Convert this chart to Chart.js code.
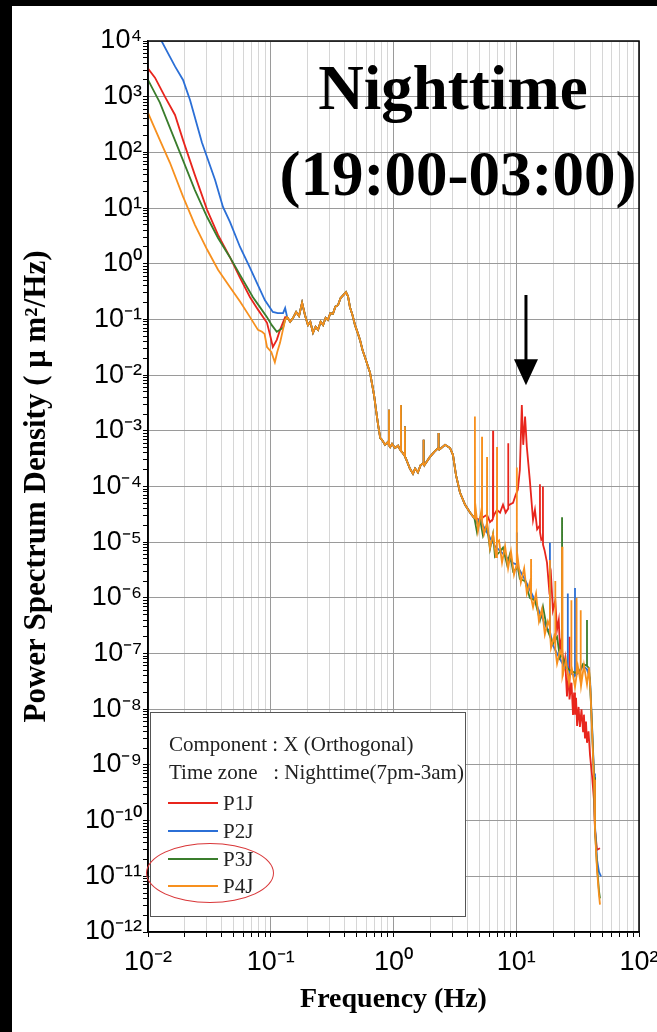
<!DOCTYPE html>
<html>
<head>
<meta charset="utf-8">
<title>Power Spectrum Density - Nighttime</title>
<script src="https://cdn.jsdelivr.net/npm/chart.js@4.4.1/dist/chart.umd.min.js"></script>
<style>
  html, body { margin: 0; padding: 0; background: #000; }
  #wrap { position: absolute; left: 12px; top: 6px; width: 645px; height: 1026px; background: #fff; overflow: hidden; }
  #chart { position: absolute; left: 0; top: 0; }
  .title { position: absolute; font-family: 'Liberation Serif', 'Times New Roman', serif; font-weight: bold;
           font-size: 63px; line-height: 63px; color: #000; white-space: nowrap; transform: translateX(-50%); }
  #legend { position: absolute; left: 138px; top: 706px; width: 316px; height: 205px; box-sizing: border-box;
            border: 1px solid #555; background: #fff; font-family: 'Liberation Serif', 'Times New Roman', serif;
            font-size: 21px; color: #222; }
  #legend .row { position: absolute; left: 18px; height: 24px; line-height: 24px; white-space: pre; }
  #legend .sw { position: absolute; left: 17px; width: 50px; height: 2px; }
  #legend .lab { position: absolute; left: 72px; height: 24px; line-height: 24px; }
  #ring { position: absolute; left: 134px; top: 837px; width: 128px; height: 60px; box-sizing: border-box;
          border: 1.5px solid #d9383a; border-radius: 50%; }
</style>
</head>
<body>
<div id="wrap">
  <canvas id="chart" width="645" height="1026"></canvas>
  <div class="title" style="left:441px; top:51px;">Nighttime</div>
  <div class="title" style="left:446px; top:137px;">(19:00-03:00)</div>
  <div id="legend">
    <div class="row" style="top:19px;">Component : X (Orthogonal)</div>
    <div class="row" style="top:47px;">Time zone   : Nighttime(7pm-3am)</div>
    <div class="sw" style="top:89px; background:#e8251c;"></div><div class="lab" style="top:78px;">P1J</div>
    <div class="sw" style="top:117px; background:#2b6fd6;"></div><div class="lab" style="top:106px;">P2J</div>
    <div class="sw" style="top:145px; background:#3a7d2c;"></div><div class="lab" style="top:134px;">P3J</div>
    <div class="sw" style="top:172px; background:#f7901e;"></div><div class="lab" style="top:161px;">P4J</div>
  </div>
  <div id="ring"></div>
</div>
<script>
// Axis ticks
const xTickValues = [0.01, 0.1, 1, 10, 100];
const xTickLabels = ['10⁻²', '10⁻¹', '10⁰', '10¹', '10²'];
const yTickValues = [1e-12, 1e-11, 1e-10, 1e-9, 1e-8, 1e-7, 1e-6, 1e-5, 1e-4, 1e-3, 1e-2, 1e-1, 1e0, 1e1, 1e2, 1e3, 1e4];
const yTickLabels = ['10⁻¹²', '10⁻¹¹', '10⁻¹⁰', '10⁻⁹', '10⁻⁸', '10⁻⁷', '10⁻⁶', '10⁻⁵', '10⁻⁴', '10⁻³', '10⁻²', '10⁻¹', '10⁰', '10¹', '10²', '10³', '10⁴'];

const seriesNames = ['P1J', 'P2J', 'P3J', 'P4J'];
const seriesColors = ['#e8251c', '#2b6fd6', '#3a7d2c', '#f7901e'];

// [frequency Hz, PSD um^2/Hz] - low frequency part, one per station
const p1jLow = [[0.0100, 3.2e3], [0.0114, 2.2e3], [0.0138, 980], [0.0166, 470], [0.0193, 166], [0.0241, 39],
  [0.0303, 9.3], [0.0372, 3.3], [0.0466, 1.3], [0.0562, 0.56], [0.0678, 0.25], [0.0787, 0.15], [0.0932, 0.087],
  [0.0986, 0.053], [0.104, 0.032], [0.112, 0.043], [0.119, 0.065], [0.131, 0.11]];
const p2jLow = [[0.0100, 4.1e4], [0.0130, 9.6e3], [0.0166, 3.5e3], [0.0193, 2.0e3], [0.0220, 870], [0.0275, 150],
  [0.0352, 32], [0.0408, 10.5], [0.0466, 5.6], [0.0562, 2.0], [0.0678, 0.84], [0.0773, 0.45], [0.0897, 0.22],
  [0.104, 0.136], [0.114, 0.13], [0.126, 0.13], [0.131, 0.16]];
const p3jLow = [[0.0100, 2.0e3], [0.0125, 780], [0.0151, 275], [0.0193, 72], [0.0241, 21], [0.0303, 6.9],
  [0.0372, 2.9], [0.0466, 1.3], [0.0562, 0.63], [0.0716, 0.25], [0.0811, 0.17], [0.0932, 0.11], [0.102, 0.079],
  [0.112, 0.060], [0.126, 0.071], [0.131, 0.10]];
const p4jLow = [[0.0100, 510], [0.0125, 166], [0.0151, 65], [0.0193, 16], [0.0241, 5.0], [0.0303, 1.8],
  [0.0372, 0.78], [0.0466, 0.38], [0.0562, 0.21], [0.0678, 0.11], [0.0787, 0.065], [0.0849, 0.060], [0.0890, 0.055],
  [0.0932, 0.032], [0.101, 0.026], [0.108, 0.017], [0.113, 0.026], [0.119, 0.038], [0.131, 0.098]];

// shared band 0.14 - 4.5 Hz (all stations overlap here)
const commonBand = [[0.136, 0.11], [0.144, 0.091], [0.152, 0.107], [0.161, 0.136], [0.170, 0.115], [0.180, 0.20],
  [0.190, 0.12], [0.201, 0.079], [0.210, 0.091], [0.221, 0.058], [0.232, 0.074], [0.243, 0.065], [0.255, 0.091],
  [0.267, 0.079], [0.280, 0.107], [0.292, 0.098], [0.306, 0.13], [0.321, 0.126], [0.336, 0.17], [0.353, 0.18],
  [0.370, 0.24], [0.388, 0.27], [0.410, 0.31], [0.426, 0.26], [0.442, 0.166], [0.463, 0.12], [0.486, 0.079],
  [0.510, 0.058], [0.533, 0.043], [0.560, 0.028], [0.586, 0.021], [0.615, 0.015], [0.644, 0.011], [0.694, 0.0044],
  [0.720, 0.0024], [0.748, 0.0013], [0.780, 7.4e-4], [0.806, 6.9e-4], [0.853, 5.6e-4], [0.900, 6.3e-4],
  [0.917, 5.5e-4], [0.919, 2.4e-3], [0.921, 5.5e-4], [0.940, 5.1e-4], [0.973, 5.8e-4], [1.03, 4.9e-4],
  [1.09, 5.4e-4], [1.13, 4.6e-4], [1.148, 4.4e-4], [1.150, 2.9e-3], [1.152, 4.3e-4], [1.17, 4.2e-4],
  [1.22, 3.7e-4], [1.238, 3.5e-4], [1.240, 1.2e-3], [1.242, 3.4e-4], [1.26, 3.2e-4], [1.36, 2.1e-4],
  [1.44, 1.7e-4], [1.50, 2.1e-4], [1.58, 1.8e-4], [1.66, 2.4e-4], [1.74, 2.6e-4], [1.758, 2.5e-4],
  [1.760, 6.9e-4], [1.762, 2.5e-4], [1.78, 2.4e-4], [1.98, 3.4e-4], [2.15, 4.2e-4], [2.31, 4.9e-4],
  [2.328, 4.8e-4], [2.330, 9.1e-4], [2.332, 4.8e-4], [2.36, 4.6e-4], [2.63, 5.6e-4], [2.89, 4.9e-4],
  [3.05, 3.7e-4], [3.23, 1.6e-4], [3.48, 7.8e-5], [3.83, 4.7e-5], [4.20, 3.4e-5], [4.50, 2.8e-5]];

// high frequency part, one per station
const p1jHigh = [[4.55, 2.8e-5], [5.07, 2.5e-5], [5.36, 2.8e-5], [5.78, 3.1e-5], [6.11, 2.3e-5], [6.45, 2.6e-5],
  [6.47, 1.0e-3], [6.49, 2.8e-5], [6.6, 3.1e-5], [6.97, 3.8e-5], [7.38, 3.4e-5], [7.80, 4.7e-5], [8.2, 3.4e-5],
  [8.58, 4.0e-5], [8.6, 6.0e-4], [8.62, 4.5e-5], [8.8, 4.7e-5], [9.42, 5.1e-5], [9.9, 7.1e-5], [10.3, 8.7e-5],
  [10.7, 2.0e-4], [11.1, 2.9e-3], [11.4, 5.6e-4], [11.8, 1.8e-3], [12.2, 5.1e-4], [12.9, 1.3e-4], [13.7, 2.5e-5],
  [14.2, 3.8e-5], [14.8, 1.7e-5], [15.58, 2.0e-5], [15.6, 1.1e-4], [15.62, 1.5e-5], [16.0, 1.1e-5],
  [16.48, 1.2e-5], [16.5, 1.0e-4], [16.52, 9.0e-6], [17.0, 7.2e-6], [17.8, 4.3e-6], [18.5, 1.5e-6],
  [19.2, 2.5e-6], [19.9, 6.0e-7], [20.8, 9.0e-7], [21.5, 2.7e-7], [22.2, 4.0e-7], [22.7, 1.2e-7], [23.4, 1.8e-7],
  [24.2, 5.1e-8], [25.0, 8.0e-8], [25.9, 1.7e-8], [26.6, 4.0e-8], [26.98, 3.0e-8], [27.0, 2.0e-7], [27.02, 2.0e-8],
  [27.4, 1.5e-8], [28.2, 3.0e-8], [29.0, 7.9e-9], [29.6, 2.0e-8], [30.1, 8.0e-9], [30.7, 1.6e-8], [31.3, 5.0e-9],
  [32.2, 1.1e-8], [33.0, 4.8e-9], [34.0, 1.0e-8], [35.0, 4.0e-9], [35.6, 8.0e-9], [36.3, 3.0e-9], [37.0, 6.0e-9],
  [37.7, 2.5e-9], [38.8, 4.0e-9], [39.9, 1.5e-9], [41.4, 6.6e-10], [43.0, 2.3e-10], [43.8, 6.8e-11],
  [45.5, 3.0e-11], [48.1, 3.2e-11]];
const p2jHigh = [[4.55, 2.8e-5], [4.79, 2.2e-5], [5.07, 2.7e-5], [5.36, 2.0e-5], [6.11, 1.2e-5], [6.71, 8.5e-6],
  [7.38, 7.0e-6], [8.41, 5.3e-6], [9.42, 4.2e-6], [10.08, 4.0e-6], [10.1, 1.5e-5], [10.12, 3.8e-6], [10.7, 3.1e-6],
  [11.8, 2.1e-6], [12.9, 1.4e-6], [14.2, 9.0e-7], [15.6, 5.3e-7], [17.8, 2.8e-7], [18.78, 2.6e-7], [18.8, 9.8e-6],
  [18.82, 2.5e-7], [19.9, 1.4e-7], [22.7, 8.0e-8], [25.0, 5.5e-8], [26.28, 6.0e-8], [26.3, 1.2e-6],
  [26.32, 6.0e-8], [27.4, 4.5e-8], [30.08, 4.0e-8], [30.1, 1.5e-6], [30.12, 4.0e-8], [33.0, 4.8e-8],
  [35.0, 6.0e-8], [37.7, 5.2e-8], [39.9, 3.5e-8], [41.4, 5.5e-9], [43.0, 7.0e-10], [43.8, 8.0e-11],
  [45.5, 2.0e-11], [47.2, 1.2e-11], [48.1, 1.1e-11], [49.0, 1.0e-11]];
const p3jHigh = [[4.55, 2.8e-5], [4.79, 1.5e-5], [5.07, 2.6e-5], [5.36, 1.3e-5], [5.78, 2.0e-5], [6.11, 7.5e-6],
  [6.47, 1.4e-5], [6.71, 5.5e-6], [7.38, 6.8e-6], [7.80, 8.0e-6], [8.41, 4.0e-6], [8.90, 6.2e-6], [9.42, 3.0e-6],
  [10.3, 3.5e-6], [10.7, 2.2e-6], [11.8, 2.0e-6], [12.9, 1.0e-6], [14.2, 9.0e-7], [15.6, 4.0e-7], [16.5, 7.0e-7],
  [17.8, 2.8e-7], [19.9, 1.5e-7], [21.5, 2.0e-7], [22.7, 8.5e-8], [23.58, 1.0e-7], [23.6, 2.8e-5],
  [23.62, 1.0e-7], [25.0, 6.0e-8], [27.4, 5.0e-8], [30.1, 4.5e-8], [33.0, 5.0e-8], [35.0, 6.5e-8],
  [37.68, 6.0e-8], [37.7, 4.0e-7], [37.72, 6.0e-8], [39.0, 5.5e-8], [39.9, 3.0e-8], [41.4, 5.0e-9],
  [43.0, 6.0e-10], [43.8, 7.0e-11], [45.5, 1.5e-11], [47.2, 5.5e-12], [48.1, 4.0e-12]];
const p4jHigh = [[4.55, 2.8e-5], [4.60, 2.7e-5], [4.61, 1.8e-3], [4.62, 2.6e-5], [4.70, 3.6e-5], [4.88, 1.6e-5],
  [5.16, 3.4e-5], [5.25, 2.6e-5], [5.26, 7.8e-4], [5.27, 2.4e-5], [5.46, 1.4e-5], [5.77, 2.2e-5], [5.78, 3.4e-4],
  [5.79, 2.3e-5], [6.11, 7.9e-6], [6.47, 1.4e-5], [6.84, 5.4e-6], [6.96, 1.0e-5], [6.97, 5.1e-4], [6.98, 9.8e-6],
  [7.24, 1.07e-5], [7.66, 4.3e-6], [8.11, 8.5e-6], [8.58, 3.4e-6], [9.06, 6.8e-6], [9.59, 2.6e-6], [10.08, 4.0e-6],
  [10.1, 2.2e-4], [10.12, 3.9e-6], [10.3, 5.1e-6], [10.9, 1.9e-6], [11.6, 3.4e-6], [12.2, 1.2e-6], [12.9, 1.9e-6],
  [13.18, 1.2e-6], [13.2, 5.0e-6], [13.22, 1.0e-6], [13.7, 6.8e-7], [14.5, 1.2e-6], [15.3, 3.8e-7], [16.2, 6.3e-7],
  [17.1, 2.2e-7], [18.1, 3.8e-7], [18.78, 3.0e-7], [18.8, 4.8e-6], [18.82, 2.5e-7], [19.2, 1.26e-7],
  [20.3, 2.0e-7], [20.78, 1.5e-7], [20.8, 2.0e-6], [20.82, 1.2e-7], [21.5, 6.6e-8], [22.7, 1.1e-7],
  [23.58, 9.0e-8], [23.6, 8.3e-6], [23.62, 7.0e-8], [24.0, 4.0e-8], [25.4, 7.6e-8], [26.9, 3.0e-8],
  [27.98, 5.0e-8], [28.0, 9.1e-7], [28.02, 5.0e-8], [28.4, 6.0e-8], [30.1, 2.5e-8], [30.98, 4.0e-8],
  [31.0, 1.0e-6], [31.02, 4.0e-8], [31.8, 5.8e-8], [33.48, 3.0e-8], [33.5, 6.0e-7], [33.52, 3.0e-8],
  [33.7, 2.6e-8], [35.6, 6.2e-8], [37.7, 2.8e-8], [39.2, 5.6e-8], [40.3, 2.0e-8], [41.4, 4.3e-9],
  [43.0, 5.4e-10], [43.8, 6.8e-11], [45.5, 1.3e-11], [47.2, 4.7e-12], [48.1, 3.1e-12]];

// arrow marking the P1J peak
const arrowFreq = 12.0;
const arrowTopPsd = 0.275;
const arrowTipPsd = 6.6e-3;

const seriesParts = [
    [p1jLow, commonBand, p1jHigh],
    [p2jLow, commonBand, p2jHigh],
    [p3jLow, commonBand, p3jHigh],
    [p4jLow, commonBand, p4jHigh]
];
// orange drawn on top, red at the bottom
const drawOrder = [3, 2, 1, 0];

function isDecade(v) {
    const e = Math.log10(v);
    return Math.abs(e - Math.round(e)) < 1e-6;
}

function logTicks(decades) {
    const ticks = [];
    for (let i = 0; i < decades.length - 1; i++) {
        for (let m = 1; m <= 9; m++) ticks.push({ value: decades[i] * m });
    }
    ticks.push({ value: decades[decades.length - 1] });
    return ticks;
}

function labelFor(values, labels, v) {
    const i = values.findIndex(t => Math.abs(t / v - 1) < 1e-6);
    return i >= 0 ? labels[i] : '';
}

const datasets = seriesNames.map((name, i) => ({
    label: name,
    data: [].concat(...seriesParts[i]).map(([f, p]) => ({ x: f, y: p })),
    borderColor: seriesColors[i],
    borderWidth: 1.8,
    pointRadius: 0,
    tension: 0,
    order: drawOrder[i]
}));

const tickFont = { family: "'Liberation Sans Narrow', 'Liberation Sans', Arial, sans-serif", size: 27 };

const framePlugin = {
    id: 'frame',
    afterDraw(chart) {
        const { ctx, chartArea: a, scales } = chart;
        ctx.save();
        ctx.strokeStyle = '#000';
        ctx.lineWidth = 1.5;
        ctx.strokeRect(a.left, a.top, a.right - a.left, a.bottom - a.top);

        // arrow
        const x = scales.x.getPixelForValue(arrowFreq);
        const y0 = scales.y.getPixelForValue(arrowTopPsd);
        const y1 = scales.y.getPixelForValue(arrowTipPsd);
        ctx.lineWidth = 3;
        ctx.beginPath();
        ctx.moveTo(x, y0);
        ctx.lineTo(x, y1 - 22);
        ctx.stroke();
        ctx.fillStyle = '#000';
        ctx.beginPath();
        ctx.moveTo(x - 12, y1 - 26);
        ctx.lineTo(x + 12, y1 - 26);
        ctx.lineTo(x, y1);
        ctx.closePath();
        ctx.fill();
        ctx.restore();
    }
};

new Chart(document.getElementById('chart').getContext('2d'), {
    type: 'line',
    data: { datasets },
    plugins: [framePlugin],
    options: {
        responsive: false,
        animation: false,
        layout: { padding: { left: 0, top: 35, right: 18, bottom: 0 } },
        plugins: { legend: { display: false }, tooltip: { enabled: false } },
        scales: {
            x: {
                type: 'logarithmic',
                position: 'bottom',
                min: 0.01,
                max: 100,
                afterBuildTicks: (scale) => { scale.ticks = logTicks(xTickValues); },
                afterFit: (scale) => { scale.height = 100; scale.paddingLeft = 0; scale.paddingRight = 0; },
                ticks: {
                    autoSkip: false,
                    maxRotation: 0,
                    padding: 9,
                    color: '#000',
                    font: tickFont,
                    callback: (v) => labelFor(xTickValues, xTickLabels, v)
                },
                grid: {
                    color: (c) => (c.tick && isDecade(c.tick.value)) ? '#9a9a9a' : '#d6d6d6',
                    tickColor: '#000',
                    tickLength: 5,
                    lineWidth: 1
                },
                border: { color: '#000', width: 1.5 },
                title: {
                    display: true,
                    text: 'Frequency (Hz)',
                    color: '#000',
                    font: { family: "'Liberation Serif', 'Times New Roman', serif", weight: 'bold', size: 28 },
                    padding: { top: 0, bottom: 15 }
                }
            },
            y: {
                type: 'logarithmic',
                min: 1e-12,
                max: 1e4,
                afterBuildTicks: (scale) => { scale.ticks = logTicks(yTickValues); },
                afterFit: (scale) => { scale.width = 136; scale.paddingTop = 0; scale.paddingBottom = 0; },
                ticks: {
                    autoSkip: false,
                    padding: 1,
                    color: '#000',
                    font: tickFont,
                    callback: (v) => labelFor(yTickValues, yTickLabels, v)
                },
                grid: {
                    color: (c) => (c.tick && isDecade(c.tick.value)) ? '#9a9a9a' : 'rgba(0,0,0,0)',
                    tickColor: '#000',
                    tickLength: 5,
                    lineWidth: 1
                },
                border: { color: '#000', width: 1.5 },
                title: {
                    display: true,
                    text: 'Power Spectrum Density ( μ m²/Hz)',
                    color: '#000',
                    font: { family: "'Liberation Serif', 'Times New Roman', serif", weight: 'bold', size: 31 },
                    padding: { top: 6, bottom: 0 }
                }
            }
        }
    }
});
</script>
</body>
</html>
